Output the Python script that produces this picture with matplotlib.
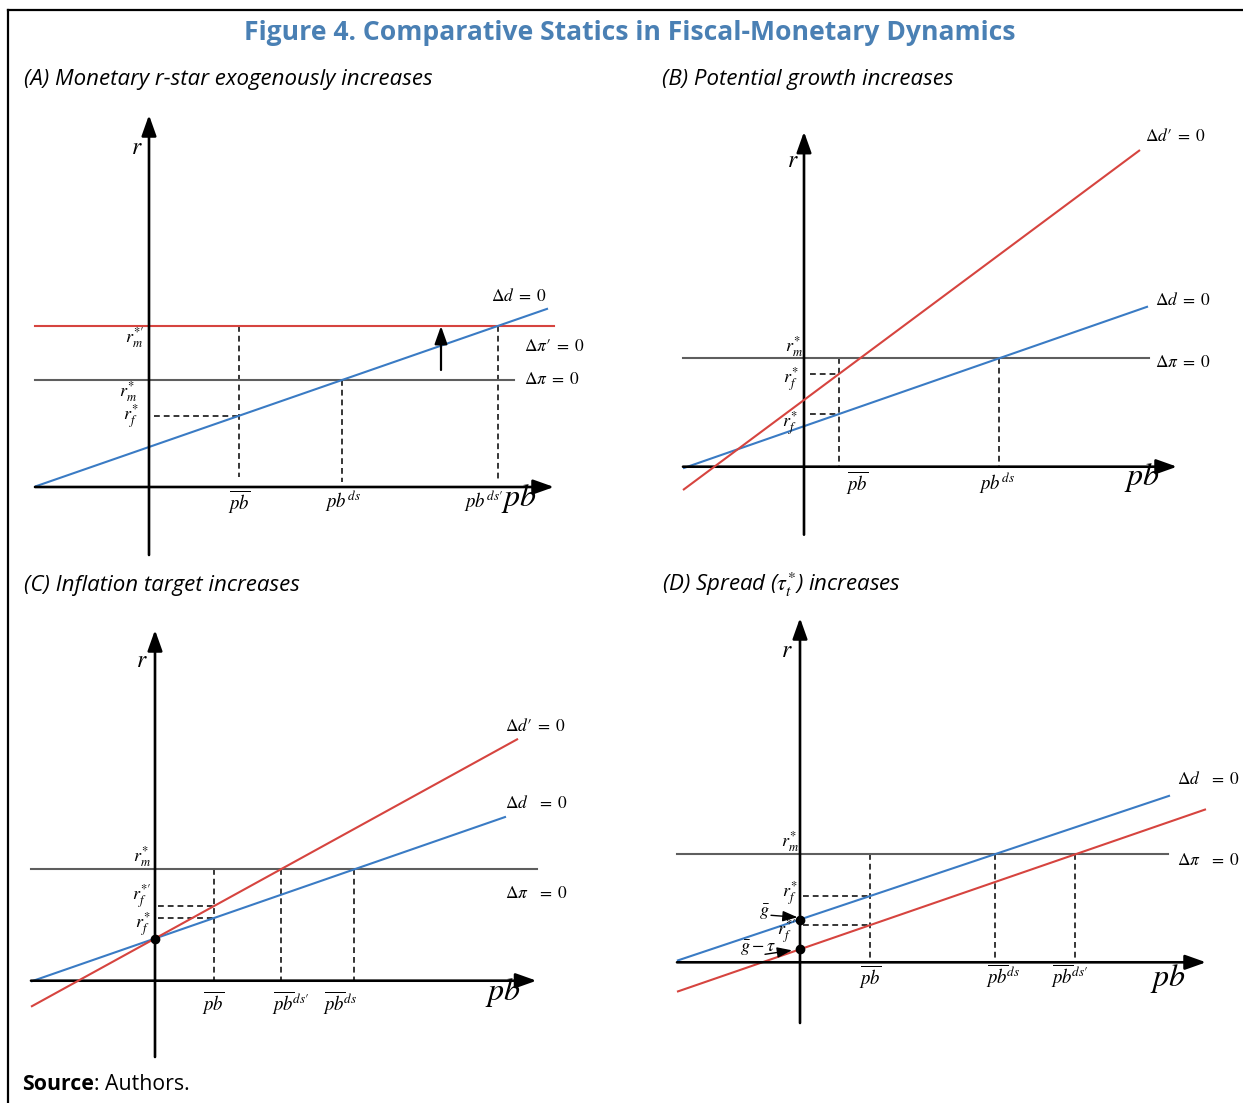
import numpy as np
import matplotlib
matplotlib.use("Agg")
import matplotlib.pyplot as plt
from matplotlib.lines import Line2D

# ---------------- data (abstract diagram units) ----------------
# Panel A: monetary r-star exogenously increases
A_r_m = 10.7            # r_m*  (Δπ = 0)
A_r_m_new = 16.1        # r_m*' (Δπ' = 0)
A_d_intercept = 4.0     # Δd = 0 line
A_d_slope = 0.347
A_pb_bar = 9.0
A_x_range = [-11.4, 40.5]
A_y_range = [-6.8, 37.2]

# Panel B: potential growth increases
B_r_m = 10.84
B_d_intercept = 4.05
B_d_slope = 0.348
B_dnew_intercept = 6.67
B_dnew_slope = 0.744
B_pb_bar = 3.46
B_x_range = [-12.1, 37.3]
B_y_range = [-6.8, 33.5]

# Panel C: inflation target increases
C_r_m = 11.14
C_intercept = 4.22
C_d_slope = 0.347
C_dnew_slope = 0.55
C_pb_bar = 5.85
C_x_range = [-12.4, 38.15]
C_y_range = [-7.63, 35.07]

# Panel D: spread increases
D_r_m = 10.8
D_d_intercept = 4.28
D_d_slope = 0.335
D_dnew_intercept = 1.30
D_dnew_slope = 0.345
D_pb_bar = 7.0
D_x_range = [-12.3, 40.6]
D_y_range = [-6.07, 34.43]

TITLE = "Figure 4. Comparative Statics in Fiscal-Monetary Dynamics"
PANEL_TITLES = ["(A) Monetary r-star exogenously increases",
                "(B) Potential growth increases",
                "(C) Inflation target increases",
                r"(D) Spread ($\tau_t^{*}$) increases"]

# ---------------- style ----------------
W, H = 1243, 1103
U = 10.0  # pixels per diagram unit
plt.rcParams["mathtext.fontset"] = "stix"
RED = "#d6443f"
BLUE = "#3a7bc4"
GRAY = "#5e5e5e"
TBLUE = "#4a80b4"
LW_C = 1.5
LW_AX = 1.9
DASH = dict(color="black", lw=1.1, ls=(0, (3.8, 2.6)))

fig = plt.figure(figsize=(W / 100, H / 100), dpi=100)


def make_ax(box, origin):
    x0, x1, y0, y1 = box
    ox, oy = origin
    ax = fig.add_axes([x0 / W, 1 - y1 / H, (x1 - x0) / W, (y1 - y0) / H])
    ax.set_xlim((x0 - ox) / U, (x1 - ox) / U)
    ax.set_ylim((oy - y1) / U, (oy - y0) / U)
    ax.axis("off")
    return ax


def arrow(ax, start, end, lw=LW_AX, ms=14):
    ax.annotate("", xy=end, xytext=start, annotation_clip=False,
                arrowprops=dict(arrowstyle="-|>,head_length=0.9,head_width=0.32",
                                lw=lw, color="black", shrinkA=0, shrinkB=0,
                                mutation_scale=ms))


def axes_arrows(ax, xr, yr):
    arrow(ax, (xr[0], 0), (xr[1], 0))
    arrow(ax, (0, yr[0]), (0, yr[1]))


def sline(ax, b, m, x0, x1, color, z=3):
    xs = np.array([x0, x1])
    ax.plot(xs, b + m * xs, color=color, lw=LW_C, solid_capstyle="butt",
            zorder=z, clip_on=False)


def hline(ax, y, x0, x1, color, z=2):
    ax.plot([x0, x1], [y, y], color=color, lw=LW_C, zorder=z, clip_on=False)


def vdash(ax, x, y0, y1):
    ax.plot([x, x], [y0, y1], clip_on=False, zorder=1, **DASH)


def hdash(ax, y, x0, x1):
    ax.plot([x0, x1], [y, y], clip_on=False, zorder=1, **DASH)


def lab(ax, x, y, s, size=11, ha="center", va="center"):
    ax.text(x, y, s, fontsize=size, ha=ha, va=va, clip_on=False)


def dot(ax, x, y):
    ax.plot([x], [y], "o", color="black", ms=6, zorder=5, clip_on=False)


SM = 13     # small math labels
EQ = 12.5   # Δ = 0 labels
PBL = 13.5  # pb tick-like labels
RS = 17     # r axis label
PB = 23     # big pb axis label
P = "\u2032"  # prime sign

# ---------------- Panel A ----------------
ax = make_ax((20, 620, 100, 560), (149, 487))
hline(ax, A_r_m_new, A_x_range[0], A_x_range[1], RED)
hline(ax, A_r_m, A_x_range[0], 36.5, GRAY)
sline(ax, A_d_intercept, A_d_slope, A_x_range[0], 39.9, BLUE)
axes_arrows(ax, A_x_range, A_y_range)
A_r_f = A_d_intercept + A_d_slope * A_pb_bar
A_pb_ds = (A_r_m - A_d_intercept) / A_d_slope
A_pb_ds_new = (A_r_m_new - A_d_intercept) / A_d_slope
vdash(ax, A_pb_bar, A_r_m_new, 1.0)
hdash(ax, A_r_f, 0.5, A_pb_bar)
vdash(ax, A_pb_ds, A_r_m, 0.5)
vdash(ax, A_pb_ds_new, A_r_m_new, 0.5)
arrow(ax, (29.2, 11.7), (29.2, A_r_m_new), lw=1.6, ms=12)
lab(ax, -1.2, 34.0, r"$r$", RS)
lab(ax, 34.2, 19.1, r"$\Delta d\;=\;0$", EQ, ha="left")
lab(ax, 37.5, 14.1, r"$\Delta \pi" + P + r"\;=\;0$", EQ, ha="left")
lab(ax, 37.5, 10.8, r"$\Delta \pi\;=\;0$", EQ, ha="left")
lab(ax, -0.5, 14.9, r"$r_m^{*\prime}$", SM, ha="right")
lab(ax, -1.2, 9.5, r"$r_m^{*}$", SM, ha="right")
lab(ax, -1.0, 7.0, r"$r_f^{*}$", SM, ha="right")
lab(ax, A_pb_bar, -1.5, r"$\overline{pb}$", PBL)
lab(ax, A_pb_ds + 0.1, -1.4, r"$pb^{ds}$", PBL)
lab(ax, A_pb_ds_new - 1.4, -1.4, r"$pb^{ds\prime}$", PBL)
lab(ax, 37.0, -1.1, r"$pb$", PB)

# ---------------- Panel B ----------------
ax = make_ax((660, 1243, 100, 545), (804, 466.7))
hline(ax, B_r_m, B_x_range[0], 34.5, GRAY)
sline(ax, B_d_intercept, B_d_slope, B_x_range[0], 34.4, BLUE)
sline(ax, B_dnew_intercept, B_dnew_slope, B_x_range[0], 33.6, RED, z=4)
axes_arrows(ax, B_x_range, B_y_range)
B_rf_new = B_dnew_intercept + B_dnew_slope * B_pb_bar
B_rf = B_d_intercept + B_d_slope * B_pb_bar
B_pb_ds = (B_r_m - B_d_intercept) / B_d_slope
vdash(ax, B_pb_bar, B_r_m, 0)
hdash(ax, B_rf_new, 0.6, B_pb_bar)
hdash(ax, B_rf, 0.6, B_pb_bar)
vdash(ax, B_pb_ds, B_r_m, 0)
lab(ax, -1.1, 30.7, r"$r$", RS)
lab(ax, 34.1, 33.1, r"$\Delta d" + P + r"\;=\;0$", EQ, ha="left")
lab(ax, 35.1, 16.7, r"$\Delta d\;=\;0$", EQ, ha="left")
lab(ax, 35.1, 10.5, r"$\Delta \pi\;=\;0$", EQ, ha="left")
lab(ax, -0.15, 12.0, r"$r_m^{*}$", SM, ha="right")
lab(ax, -0.5, 8.7, r"$r_f^{*}$", SM, ha="right")
lab(ax, -0.6, 4.3, r"$r_f^{*}$", SM, ha="right")
lab(ax, B_pb_bar + 1.9, -1.6, r"$\overline{pb}$", PBL)
lab(ax, B_pb_ds - 0.2, -1.6, r"$pb^{ds}$", PBL)
lab(ax, 33.8, -1.1, r"$pb$", PB)

# ---------------- Panel C ----------------
ax = make_ax((20, 620, 600, 1060), (155, 980.7))
hline(ax, C_r_m, C_x_range[0], C_x_range[1], GRAY)
sline(ax, C_intercept, C_d_slope, C_x_range[0], 35.1, BLUE)
sline(ax, C_intercept, C_dnew_slope, C_x_range[0], 36.3, RED, z=4)
axes_arrows(ax, C_x_range, C_y_range)
C_rf_new = C_intercept + C_dnew_slope * C_pb_bar
C_rf = C_intercept + C_d_slope * C_pb_bar
C_pb_ds_new = (C_r_m - C_intercept) / C_dnew_slope
C_pb_ds = (C_r_m - C_intercept) / C_d_slope
vdash(ax, C_pb_bar, C_r_m, 0)
vdash(ax, C_pb_ds_new, C_r_m, 0)
vdash(ax, C_pb_ds, C_r_m, 0)
hdash(ax, C_rf_new, 0.3, C_pb_bar)
hdash(ax, C_rf, 0.3, C_pb_bar)
dot(ax, 0, C_intercept)
lab(ax, -1.3, 32.1, r"$r$", RS)
lab(ax, 35.0, 25.5, r"$\Delta d" + P + r"\;=\;0$", EQ, ha="left")
lab(ax, 35.0, 17.8, r"$\Delta d\;\;\;=\;0$", EQ, ha="left")
lab(ax, 35.0, 8.8, r"$\Delta \pi\;\;\;=\;0$", EQ, ha="left")
lab(ax, -0.4, 12.4, r"$r_m^{*}$", SM, ha="right")
lab(ax, -0.4, 8.35, r"$r_f^{*\prime}$", SM, ha="right")
lab(ax, -0.4, 5.6, r"$r_f^{*}$", SM, ha="right")
lab(ax, C_pb_bar, -2.2, r"$\overline{pb}$", PBL)
lab(ax, C_pb_ds_new + 1.0, -2.2, r"$\overline{pb}^{ds\prime}$", PBL)
lab(ax, C_pb_ds - 1.4, -2.2, r"$\overline{pb}^{ds}$", PBL)
lab(ax, 34.8, -1.2, r"$pb$", PB)

# ---------------- Panel D ----------------
ax = make_ax((660, 1243, 600, 1030), (800, 962.3))
hline(ax, D_r_m, D_x_range[0], 36.8, GRAY)
sline(ax, D_d_intercept, D_d_slope, D_x_range[0], 37.0, BLUE)
sline(ax, D_dnew_intercept, D_dnew_slope, D_x_range[0], D_x_range[1], RED)
axes_arrows(ax, D_x_range, D_y_range)
D_rf = D_d_intercept + D_d_slope * D_pb_bar
D_rf_new = D_dnew_intercept + D_dnew_slope * D_pb_bar
D_pb_ds = (D_r_m - D_d_intercept) / D_d_slope
D_pb_ds_new = (D_r_m - D_dnew_intercept) / D_dnew_slope
vdash(ax, D_pb_bar, D_r_m, 0)
vdash(ax, D_pb_ds, D_r_m, 0)
vdash(ax, D_pb_ds_new, D_r_m, 0)
hdash(ax, D_rf, 0.3, D_pb_bar)
hdash(ax, D_rf_new, 0.3, D_pb_bar)
dot(ax, 0, D_d_intercept)
dot(ax, 0, D_dnew_intercept)
arrow(ax, (-2.9, 4.7), (-0.25, 4.5), lw=1.0, ms=10)
arrow(ax, (-3.5, 0.8), (-0.8, 1.2), lw=1.0, ms=10)
lab(ax, -1.3, 31.2, r"$r$", RS)
lab(ax, 37.7, 18.3, r"$\Delta d\;\;\;=\;0$", EQ, ha="left")
lab(ax, 37.7, 10.2, r"$\Delta \pi\;\;\;=\;0$", EQ, ha="left")
lab(ax, -0.15, 12.1, r"$r_m^{*}$", SM, ha="right")
lab(ax, -0.25, 6.8, r"$r_f^{*}$", SM, ha="right")
lab(ax, -3.6, 5.0, r"$\bar{g}$", SM)
lab(ax, -0.35, 3.0, r"$r_f^{*\prime}$", SM, ha="right")
lab(ax, -4.2, 1.4, r"$\bar{g}-\tau$", SM)
lab(ax, D_pb_bar, -1.4, r"$\overline{pb}$", PBL)
lab(ax, D_pb_ds + 0.8, -1.3, r"$\overline{pb}^{ds}$", PBL)
lab(ax, D_pb_ds_new - 0.6, -1.3, r"$\overline{pb}^{ds\prime}$", PBL)
lab(ax, 36.8, -1.6, r"$pb$", PB)

# ---------------- frame and texts ----------------
fig.add_artist(Line2D([8 / W, 8 / W], [1 - 10 / H, 0], transform=fig.transFigure,
                      color="black", lw=1.6))
fig.add_artist(Line2D([8 / W, 1], [1 - 10 / H, 1 - 10 / H], transform=fig.transFigure,
                      color="black", lw=1.6))

FAM = ["Open Sans", "DejaVu Sans"]
t_title = fig.text(630 / W, 1 - 33 / H, TITLE, ha="center", va="center",
                   fontsize=20, fontweight="bold", color=TBLUE, family=FAM)
pt = []
for s, (px, py) in zip(PANEL_TITLES, [(24, 79), (662, 79), (24, 585), (662, 585)]):
    pt.append(fig.text(px / W, 1 - py / H, s, ha="left", va="center", fontsize=15,
                       style="italic", family=FAM))
t_src = fig.text(22 / W, 1 - 1085 / H, "Source", ha="left", va="center",
                 fontsize=14, fontweight="bold", family=FAM)

fig.canvas.draw()
r = fig.canvas.get_renderer()


def fit(t, target):
    w = t.get_window_extent(r).width
    t.set_fontsize(t.get_fontsize() * target / w)


fit(t_title, 770)
fit(pt[0], 408)
for t in pt[1:]:
    t.set_fontsize(pt[0].get_fontsize())
fit(t_src, 72)
fig.canvas.draw()
bb = t_src.get_window_extent(r)
fig.text(bb.x1 / W, 1 - 1085 / H, ": Authors.", ha="left", va="center",
         fontsize=t_src.get_fontsize(), family=FAM)

fig.savefig("out.png", dpi=100)
